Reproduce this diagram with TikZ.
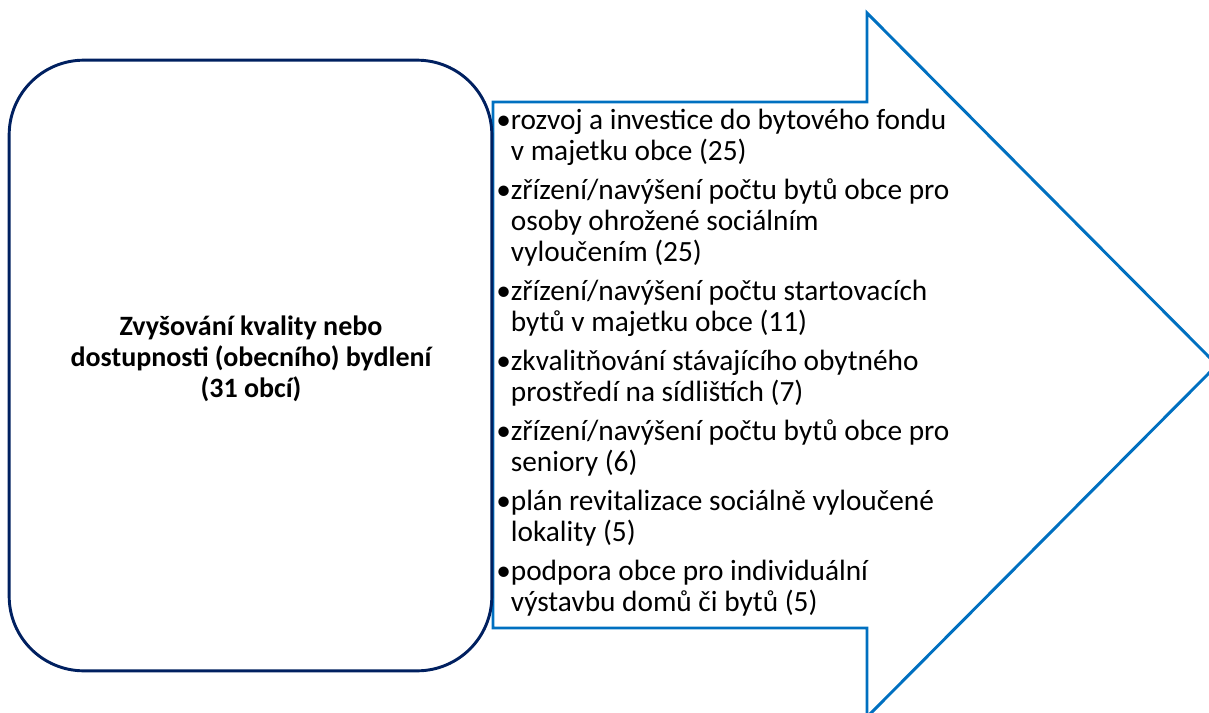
\documentclass[tikz,border=0pt]{standalone}
\usepackage{fontspec}
\setmainfont{Carlito}
\usetikzlibrary{positioning}
\definecolor{navyline}{RGB}{0,32,96}
\definecolor{arrowblue}{RGB}{0,112,192}
\newcommand{\itemgap}{\\[6pt]}
\newcommand{\hang}{\phantom{\textbullet}}

\begin{document}
\begin{tikzpicture}[x=0.75pt,y=-0.75pt,
    goalbox/.style={draw=navyline, line width=2.2pt, rounded corners=56pt,
      minimum width=362pt, minimum height=458pt, inner sep=0pt},
    goaltext/.style={align=center, font=\fontsize{21pt}{23.25pt}\selectfont\bfseries},
    itemtext/.style={align=left, inner sep=0pt, font=\fontsize{22pt}{23.25pt}\selectfont},
    bigarrow/.style={draw=arrowblue, line width=2.2pt}]
  \useasboundingbox (0,0) rectangle (1209,713);
  \clip (0,0) rectangle (1209,713);

  % arrow outline
  \coordinate (tail top) at (493,102);
  \coordinate (tail bottom) at (493,628);
  \coordinate (tip) at (1217,365);
  \draw[bigarrow] (tail top) -- (867,102) -- (867,13) -- (tip)
    -- (867,717) -- (867,628) -- (tail bottom) -- cycle;

  % left box
  \node[goalbox] (goal) at (250.5,365.5) {};
  \node[goaltext] (title) at (251,359)
    {Zvyšování kvality nebo\\dostupnosti (obecního) bydlení\\(31 obcí)};

  % list in the arrow
  \node[itemtext, anchor=north west] (items) at (496,109) {%
    \textbullet rozvoj a investice do bytového fondu\\
    \hang v majetku obce (25)\itemgap
    \textbullet zřízení/navýšení počtu bytů obce pro\\
    \hang osoby ohrožené sociálním\\
    \hang vyloučením (25)\itemgap
    \textbullet zřízení/navýšení počtu startovacích\\
    \hang bytů v majetku obce (11)\itemgap
    \textbullet zkvalitňování stávajícího obytného\\
    \hang prostředí na sídlištích (7)\itemgap
    \textbullet zřízení/navýšení počtu bytů obce pro\\
    \hang seniory (6)\itemgap
    \textbullet plán revitalizace sociálně vyloučené\\
    \hang lokality (5)\itemgap
    \textbullet podpora obce pro individuální\\
    \hang výstavbu domů či bytů (5)};
\end{tikzpicture}
\end{document}
